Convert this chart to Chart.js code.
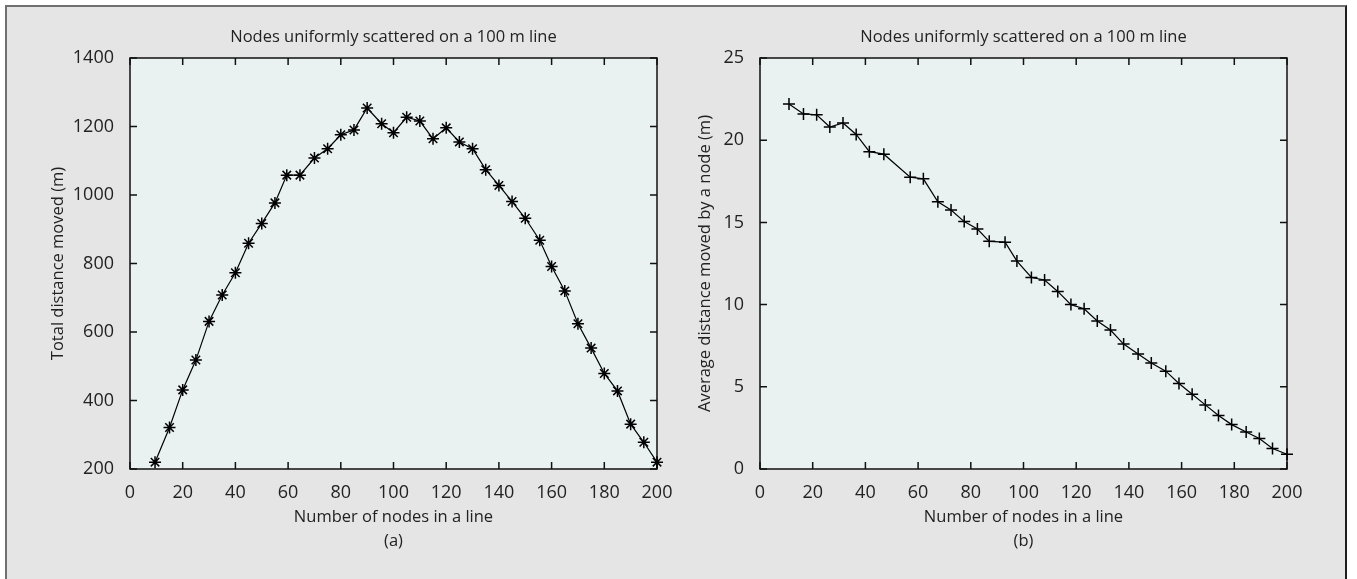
<!DOCTYPE html>
<html>
<head>
<meta charset="utf-8">
<script src="https://cdn.jsdelivr.net/npm/chart.js@4/dist/chart.umd.min.js"></script>
<style>
    html, body { margin: 0; padding: 0; background: #fff; }
    body { width: 1357px; height: 579px; position: relative; overflow: hidden; }
    .frameBox {
        position: absolute; left: 5px; top: 5px; width: 1338px; height: 600px;
        background: #e5e5e5;
        border-top: 2px solid #707070; border-left: 2px solid #707070; border-right: 2px solid #1e1e1e;
    }
    .chartBox { position: absolute; top: 0; width: 680px; height: 579px; }
</style>
</head>
<body>
<div class="frameBox"></div>
<div class="chartBox" style="left:0"><canvas id="totalChart" width="680" height="579"></canvas></div>
<div class="chartBox" style="left:630px"><canvas id="avgChart" width="680" height="579"></canvas></div>
<script>
// (a) 전체 이동 거리
let totalNodes = [9.5, 15, 20, 25, 30, 35, 40, 45, 50, 55, 59.5, 64.5, 70, 75, 80, 85, 90, 95.5, 100, 105,
    110, 115, 120, 125, 130, 135, 140, 145, 150, 155.5, 160, 165, 170, 175, 180, 185, 190, 195, 200];
let totalDistance = [220, 321, 431, 518, 631, 708, 773, 859, 917, 977, 1058, 1058, 1108, 1135, 1176, 1190, 1254, 1208, 1182, 1227,
    1216, 1164, 1196, 1155, 1135, 1074, 1028, 981, 932, 868, 791, 720, 624, 553, 479, 428, 331, 278, 220];

// (b) 노드당 평균 이동 거리
let avgNodes = [11, 16.5, 21.5, 26.5, 31.5, 36.5, 41.5, 47, 57, 62, 67.5, 72.5, 77.5, 82.5, 87, 93, 97.5, 103, 108, 113,
    118, 123, 128, 133, 138, 143.5, 148.5, 154, 159, 164, 169, 174, 179, 184.5, 189.5, 194.5, 200];
let avgDistance = [22.2, 21.6, 21.55, 20.8, 21.05, 20.35, 19.3, 19.15, 17.75, 17.65, 16.25, 15.75, 15.05, 14.6, 13.85, 13.8, 12.65, 11.65, 11.5, 10.8,
    10.0, 9.75, 9.0, 8.45, 7.6, 7.0, 6.45, 5.95, 5.2, 4.55, 3.9, 3.25, 2.7, 2.25, 1.85, 1.25, 0.9];

let xTicks = [0, 20, 40, 60, 80, 100, 120, 140, 160, 180, 200];
let totalTicks = [200, 400, 600, 800, 1000, 1200, 1400];
let avgTicks = [0, 5, 10, 15, 20, 25];

let chartTitle = 'Nodes uniformly scattered on a 100 m line';
let xTitle = 'Number of nodes in a line';

const FONT = "'Open Sans', 'Noto Sans', sans-serif";
const TEXT = '#222';

// plot background + border + inward ticks on all four sides
const framePlugin = {
    id: 'frame',
    beforeDraw(chart) {
        const {ctx, chartArea: a} = chart;
        ctx.save();
        ctx.fillStyle = '#e9f2f1';
        ctx.fillRect(a.left, a.top, a.width, a.height);
        ctx.restore();
    },
    beforeDatasetsDraw(chart) {
        const {ctx, chartArea: a, scales: {x, y}} = chart;
        const len = 7;
        ctx.save();
        ctx.strokeStyle = '#111';
        ctx.lineWidth = 1.5;
        ctx.strokeRect(a.left, a.top, a.width, a.height);
        ctx.beginPath();
        x.ticks.forEach(t => {
            let px = x.getPixelForValue(t.value);
            ctx.moveTo(px, a.bottom); ctx.lineTo(px, a.bottom - len);
            ctx.moveTo(px, a.top); ctx.lineTo(px, a.top + len);
        });
        y.ticks.forEach(t => {
            let py = y.getPixelForValue(t.value);
            ctx.moveTo(a.left, py); ctx.lineTo(a.left + len, py);
            ctx.moveTo(a.right, py); ctx.lineTo(a.right - len, py);
        });
        ctx.stroke();
        ctx.restore();
    }
};

function makeChart(id, xs, ys, yTicks, yTitle, yTitleOffset, label, marker) {
    let ctx = document.getElementById(id).getContext('2d');
    return new Chart(ctx, {
        type: 'line',
        data: {
            datasets: [{
                data: xs.map((v, i) => ({x: v, y: ys[i]})),
                borderColor: '#000',
                borderWidth: 1.2,
                pointStyle: marker,
                pointRadius: 6,
                pointBorderColor: '#000',
                pointBorderWidth: 1.5,
                pointBackgroundColor: '#000',
                tension: 0,
                clip: false
            }]
        },
        options: {
            responsive: false,
            animation: false,
            layout: { padding: { left: 0, right: 23, top: 0, bottom: 0 } },
            plugins: {
                legend: { display: false },
                tooltip: { enabled: false }
            },
            scales: {
                // top axis only carries the chart title, centred over the plot
                top: {
                    type: 'linear',
                    position: 'top',
                    min: xTicks[0],
                    max: xTicks[xTicks.length - 1],
                    afterFit: s => { s.height = 58; },
                    grid: { display: false },
                    border: { display: false },
                    ticks: { display: false },
                    title: {
                        display: true,
                        text: chartTitle,
                        color: TEXT,
                        font: { family: FONT, size: 16.5, lineHeight: 1.2 },
                        padding: { top: 27, bottom: 0 }
                    }
                },
                x: {
                    type: 'linear',
                    min: xTicks[0],
                    max: xTicks[xTicks.length - 1],
                    afterBuildTicks: s => { s.ticks = xTicks.map(v => ({value: v})); },
                    afterFit: s => { s.height = 110; },
                    grid: { display: false },
                    border: { display: false },
                    ticks: { color: TEXT, font: { family: FONT, size: 18 }, padding: 5, maxRotation: 0,
                        callback: v => String(v) },
                    title: {
                        display: true,
                        text: [xTitle, label],
                        color: TEXT,
                        font: { family: FONT, size: 16.5, lineHeight: 1.45 },
                        padding: { top: 0, bottom: 26 }
                    }
                },
                y: {
                    type: 'linear',
                    min: yTicks[0],
                    max: yTicks[yTicks.length - 1],
                    afterBuildTicks: s => { s.ticks = yTicks.map(v => ({value: v})); },
                    afterFit: s => { s.width = 130; },
                    grid: { display: false },
                    border: { display: false },
                    ticks: { color: TEXT, font: { family: FONT, size: 18 }, padding: 8,
                        callback: v => String(v) },
                    title: {
                        display: true,
                        text: yTitle,
                        color: TEXT,
                        font: { family: FONT, size: 16.5, lineHeight: 1.2 },
                        padding: { top: yTitleOffset, bottom: 0 }
                    }
                }
            }
        },
        plugins: [framePlugin]
    });
}

makeChart('totalChart', totalNodes, totalDistance, totalTicks, 'Total distance moved (m)', 48, '(a)', 'star');
makeChart('avgChart', avgNodes, avgDistance, avgTicks, 'Average distance moved by a node (m)', 65, '(b)', 'cross');
</script>
</body>
</html>
